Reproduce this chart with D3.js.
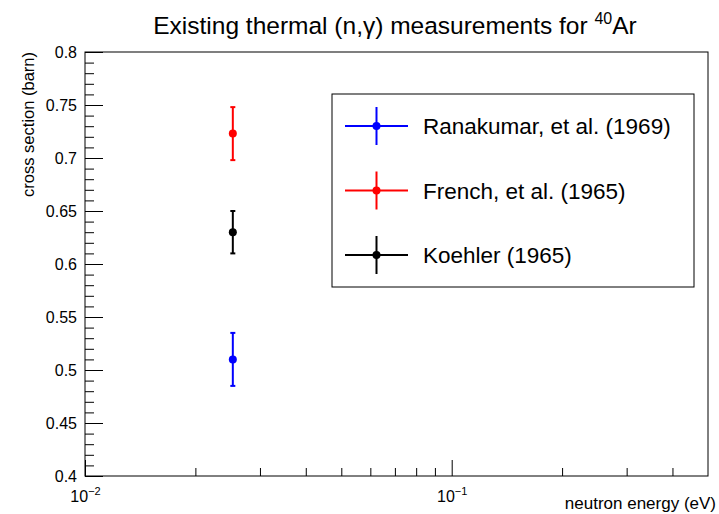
<!DOCTYPE html>
<html>
<head>
<meta charset="utf-8">
<script src="https://cdn.jsdelivr.net/npm/d3@7"></script>
<style>
	body { margin: 0; background: #fff; }
	text { font-family: "Liberation Sans", Arial, sans-serif; }
</style>
</head>
<body>
<svg id="chart"></svg>
<script>
// measurements at thermal energy
let labels = ["Ranakumar, et al. (1969)", "French, et al. (1965)", "Koehler (1965)"];
let colors = ["#0000ff", "#ff0000", "#000000"];
let energies = [0.0253, 0.0253, 0.0253];
let xsValues = [0.51, 0.723, 0.63];
let xsErrors = [0.025, 0.025, 0.02];

let yTicks = [0.4, 0.45, 0.5, 0.55, 0.6, 0.65, 0.7, 0.75, 0.8];
let xMajor = [0.01, 0.1];
let xMinor = [0.02, 0.03, 0.04, 0.05, 0.06, 0.07, 0.08, 0.09, 0.2, 0.3, 0.4];

let w = 719;
let h = 514;
let marginT = 52;
let marginL = 85;
let marginR = 11;
let marginB = 38;

let chart = d3.select('#chart')
	.attr('width', w)
	.attr('height', h);

let xScale = d3.scaleLog()
	.domain([0.01, 0.5])
	.range([marginL, w - marginR]);

let yScale = d3.scaleLinear()
	.domain([0.4, 0.8])
	.range([h - marginB, marginT]);

// frame
chart.append('rect')
	.attr('x', marginL)
	.attr('y', marginT)
	.attr('width', w - marginR - marginL)
	.attr('height', h - marginB - marginT)
	.attr('fill', 'none')
	.attr('stroke', '#000')
	.attr('stroke-width', 1);

// y axis, ticks pointing inside
let yAxis = d3.axisLeft(yScale)
	.tickValues(yTicks)
	.tickSize(-18)
	.tickPadding(8)
	.tickFormat(d => d3.format('')(+d.toFixed(2)));

let yMinor = d3.range(0.4, 0.8001, 0.01);
chart.append('g')
	.attr('transform', `translate(${marginL},0)`)
	.call(d3.axisLeft(yScale).tickValues(yMinor).tickSize(-9).tickFormat(''))
	.call(g => g.select('.domain').remove());

chart.append('g')
	.attr('transform', `translate(${marginL},0)`)
	.call(yAxis)
	.call(g => g.select('.domain').remove())
	.call(g => g.selectAll('text').attr('font-size', 16).attr('fill', '#000'));

// x axis (log)
chart.append('g')
	.attr('transform', `translate(0,${h - marginB})`)
	.call(d3.axisBottom(xScale).tickValues(xMinor).tickSize(-8).tickFormat(''))
	.call(g => g.select('.domain').remove());

chart.append('g')
	.attr('transform', `translate(0,${h - marginB})`)
	.call(d3.axisBottom(xScale).tickValues(xMajor).tickSize(-16).tickPadding(6).tickFormat(''))
	.call(g => g.select('.domain').remove())
	.call(g => g.selectAll('.tick').append('text')
		.attr('fill', '#000')
		.attr('y', 26)
		.attr('font-size', 16)
		.attr('text-anchor', 'middle')
		.each(function (d) {
			let t = d3.select(this);
			t.append('tspan').text('10');
			t.append('tspan').attr('dy', -7).attr('font-size', 11).text(Math.round(Math.log10(d)).toString().replace('-', '\u2212'));
		}));

// data: error bars + markers
let pts = chart.append('g')
	.selectAll('g')
	.data(labels)
	.enter()
	.append('g')
	.attr('stroke', (d, i) => colors[i])
	.attr('fill', (d, i) => colors[i]);

pts.append('line')
	.attr('x1', (d, i) => xScale(energies[i]))
	.attr('x2', (d, i) => xScale(energies[i]))
	.attr('y1', (d, i) => yScale(xsValues[i] - xsErrors[i]))
	.attr('y2', (d, i) => yScale(xsValues[i] + xsErrors[i]))
	.attr('stroke-width', 2);

[-1, 1].forEach(s => {
	pts.append('line')
		.attr('x1', (d, i) => xScale(energies[i]) - 2.5)
		.attr('x2', (d, i) => xScale(energies[i]) + 2.5)
		.attr('y1', (d, i) => yScale(xsValues[i] + s * xsErrors[i]))
		.attr('y2', (d, i) => yScale(xsValues[i] + s * xsErrors[i]))
		.attr('stroke-width', 2);
});

pts.append('circle')
	.attr('cx', (d, i) => xScale(energies[i]))
	.attr('cy', (d, i) => yScale(xsValues[i]))
	.attr('r', 4)
	.attr('stroke', 'none');

// LEGEND
let lx = 332, ly = 94, lw = 362, lh = 193;
chart.append('rect')
	.attr('x', lx)
	.attr('y', ly)
	.attr('width', lw)
	.attr('height', lh)
	.attr('fill', '#fff')
	.attr('stroke', '#000')
	.attr('stroke-width', 1);

let entries = chart.append('g')
	.selectAll('g')
	.data(labels)
	.enter()
	.append('g')
	.attr('transform', (d, i) => `translate(0,${126 + i * 64.5})`);

entries.append('line')
	.attr('x1', 345).attr('x2', 408)
	.attr('stroke', (d, i) => colors[i])
	.attr('stroke-width', 2);
entries.append('line')
	.attr('x1', 376.5).attr('x2', 376.5)
	.attr('y1', -19).attr('y2', 19)
	.attr('stroke', (d, i) => colors[i])
	.attr('stroke-width', 2);
entries.append('circle')
	.attr('cx', 376.5)
	.attr('r', 4)
	.attr('fill', (d, i) => colors[i]);
entries.append('text')
	.attr('x', 423)
	.attr('y', 8)
	.attr('font-size', 22.5)
	.text(d => d);

// TITLE
let title = chart.append('text')
	.attr('x', 395)
	.attr('y', 34)
	.attr('font-size', 24.5)
	.attr('text-anchor', 'middle');
title.append('tspan').text('Existing thermal (n,\u03b3) measurements for ');
title.append('tspan').attr('dy', -10).attr('font-size', 16).text('40');
title.append('tspan').attr('dy', 10).text('Ar');

// LABELS
chart.append('text')
	.attr('x', 716)
	.attr('y', h - 5)
	.attr('font-size', 17)
	.attr('text-anchor', 'end')
	.text('neutron energy (eV)');

chart.append('text')
	.attr('transform', 'rotate(-90)')
	.attr('x', -marginT)
	.attr('y', 34)
	.attr('font-size', 16.5)
	.attr('text-anchor', 'end')
	.text('cross section (barn)');
</script>
</body>
</html>
